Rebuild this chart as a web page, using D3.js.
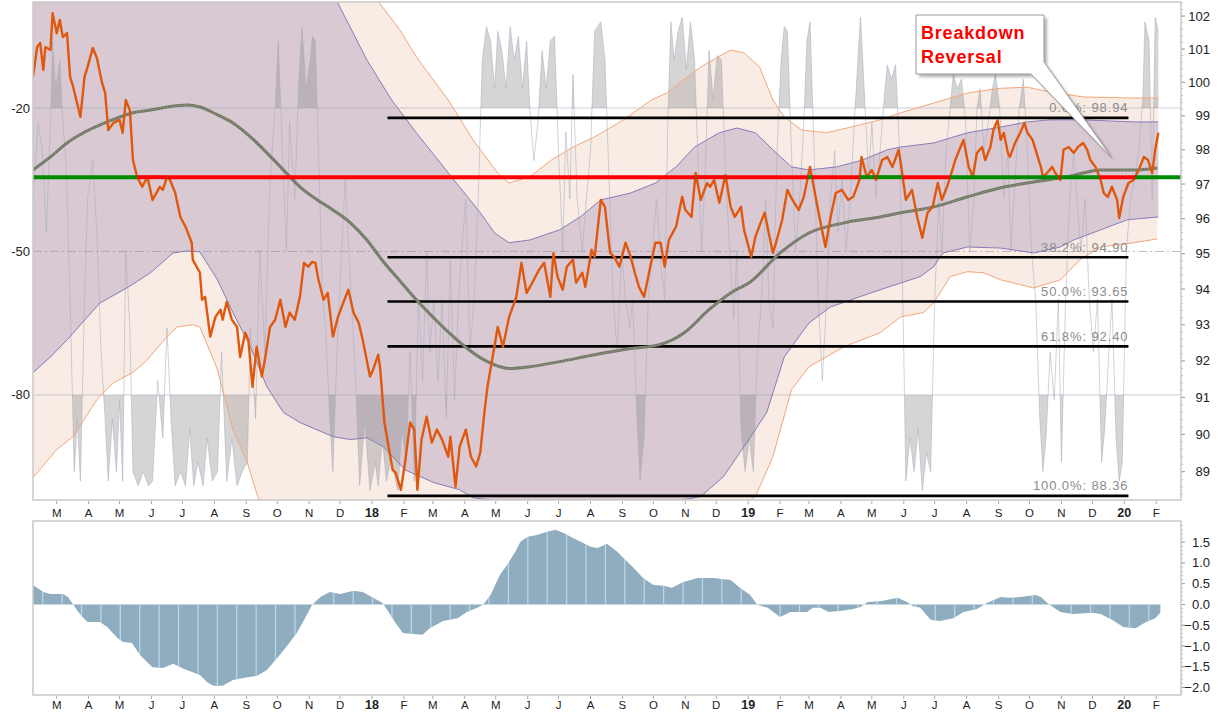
<!DOCTYPE html>
<html><head><meta charset="utf-8">
<script src="https://cdn.jsdelivr.net/npm/d3@7"></script>
<style>
body{margin:0;background:#fff;}
svg{display:block;font-family:"Liberation Sans",Arial,sans-serif;}
</style></head><body>
<svg id="c" width="1217" height="713"></svg>
<script>
// ---------- DATA ----------
const startDate = new Date(2017, 1, 6);   // day 0
const endDate = new Date(2020, 1, 25);

const priceDays = [0,4,7,10,12,17,19,23,26,29,33,36,39,46,50,53,58,62,67,70,73,78,84,87,90,94,97,101,106,111,116,123,126,130,133,138,143,148,150,154,155,162,164,167,172,177,182,184,188,193,198,201,206,209,213,217,222,225,230,235,240,245,249,254,259,263,267,271,274,277,282,286,291,296,301,306,311,316,320,327,330,335,337,341,349,352,357,361,366,370,373,377,382,387,392,397,403,405,410,414,420,425,430,434,438,441,446,451,456,462,467,469,474,479,486,491,496,502,505,509,514,518,524,527,533,536,542,545,551,555,560,564,569,575,580,584,588,593,599,604,609,613,617,624,630,633,639,643,648,654,657,661,666,672,677,681,687,690,697,701,706,710,714,718,721,727,732,737,743,748,754,760,765,769,774,779,785,791,796,802,804,809,814,818,824,829,834,840,842,847,853,858,863,868,873,878,882,887,890,895,900,903,908,912,916,921,924,929,932,936,939,942,946,948,953,958,962,965,970,975,978,980,984,989,992,997,1000,1005,1010,1014,1019,1023,1026,1031,1036,1039,1043,1047,1052,1054,1058,1063,1068,1073,1078,1082,1086,1089,1092];
const priceValues = [100.16,101.06,101.18,100.37,101.06,100.97,102.09,101.48,101.88,101.36,101.48,100.16,99.86,98.97,100.16,100.46,101.03,100.73,99.98,99.68,98.58,98.79,98.88,98.50,99.47,99.17,97.70,97.21,96.92,97.21,96.54,96.92,96.83,97.21,97.12,96.74,96.05,95.77,95.62,95.31,94.83,94.46,93.70,93.78,92.67,93.22,93.42,93.14,93.64,93.14,92.94,92.11,92.78,92.58,91.29,92.39,91.57,92.03,92.94,93.14,93.70,92.94,93.34,93.14,93.78,94.74,94.63,94.77,94.74,94.26,93.70,93.89,92.67,93.22,93.61,93.98,93.34,93.06,92.58,91.57,91.76,92.17,91.76,90.32,89.05,88.97,88.52,89.24,90.32,90.13,88.52,89.86,90.48,89.78,90.13,89.86,89.40,89.94,88.60,89.67,90.13,89.40,89.14,89.51,90.59,91.29,92.11,92.94,92.39,93.22,93.61,93.78,94.74,93.89,94.26,94.54,94.74,93.78,95.02,94.35,93.98,94.63,94.83,94.18,94.46,94.06,95.11,94.91,96.54,96.34,95.02,94.91,94.63,95.31,94.91,94.46,94.06,93.78,94.63,95.31,95.31,94.63,95.39,95.77,96.63,96.25,96.05,97.32,96.54,97.03,96.92,97.12,96.46,97.26,96.34,96.05,96.34,95.68,94.91,95.48,95.88,96.17,95.59,95.02,95.31,95.97,96.83,96.54,96.25,96.63,97.50,96.54,95.77,95.19,96.05,96.74,96.83,96.54,96.63,97.12,97.79,97.21,97.41,97.12,97.70,97.79,97.50,98.00,97.62,96.54,96.83,96.05,95.45,96.17,96.34,97.03,96.54,96.92,97.21,97.70,98.08,98.29,97.50,97.21,97.91,98.08,97.70,98.08,98.58,98.88,98.29,98.50,97.91,97.79,98.20,98.50,98.79,98.50,98.29,97.79,97.50,97.21,97.32,97.50,97.32,97.12,98.00,98.08,97.91,98.08,98.20,98.00,97.70,97.50,97.12,96.74,96.63,96.92,96.54,96.02,96.63,97.03,97.12,97.41,97.79,97.70,97.32,98.00,98.50];

const maDays = [0,17,33,49,65,82,97,114,130,150,162,179,194,211,227,243,259,276,291,308,324,340,357,372,389,406,423,441,462,482,511,545,580,608,632,656,677,696,725,753,787,822,842,874,907,939,971,1004,1036,1068,1091];
const maValues = [97.41,97.79,98.20,98.50,98.73,98.94,99.09,99.17,99.26,99.32,99.26,99.03,98.79,98.38,97.91,97.41,96.92,96.54,96.25,95.88,95.39,94.77,94.20,93.70,93.19,92.72,92.31,91.98,91.79,91.84,91.98,92.17,92.34,92.45,92.78,93.42,93.89,94.20,95.02,95.59,95.88,96.05,96.17,96.34,96.63,96.89,97.06,97.21,97.41,97.41,97.47];

const innerUpperDays = [0,65,150,220,259,295,324,348,372,406,434,448,462,482,511,531,551,580,604,624,642,666,683,701,718,736,753,780,805,829,842,874,907,939,965,987,1019,1068,1092];
const innerUpperValues = [102.8,103.3,103.6,103.8,103.4,102.45,100.67,99.47,98.50,97.21,96.17,95.59,95.31,95.39,95.68,96.05,96.54,96.74,97.03,97.50,98.08,98.50,98.64,98.50,98.00,97.50,97.41,97.50,97.70,98.00,98.08,98.20,98.50,98.67,98.82,98.88,98.88,98.82,98.82];
const innerLowerDays = [0,17,33,65,91,114,136,150,162,179,194,211,227,243,259,291,308,324,340,361,389,414,427,458,511,599,648,670,690,712,729,753,774,802,822,842,861,874,883,907,939,971,997,1010,1036,1062,1092];
const innerLowerValues = [91.68,92.11,92.58,93.61,94.03,94.46,95.02,95.08,95.05,94.26,93.34,92.39,91.29,90.59,90.32,89.94,89.86,89.91,89.67,89.05,88.71,88.52,88.31,88.2,88.1,88.1,88.34,88.87,89.67,90.59,92.11,93.05,93.50,93.78,93.98,94.17,94.35,94.63,95.02,95.19,95.16,95.02,95.19,95.39,95.68,95.97,96.05];
const outerUpperDays = [0,60,150,230,290,320,335,356,372,403,427,451,462,482,503,524,545,573,600,615,648,677,690,705,718,729,746,770,794,822,842,874,907,939,965,987,1019,1068,1092];
const outerUpperValues = [106.0,107.0,107.5,106.8,104.5,103.2,102.45,101.58,100.76,99.47,98.29,97.32,97.03,97.21,97.70,98.08,98.38,98.88,99.47,99.68,100.46,100.97,100.88,100.46,99.47,98.97,98.58,98.50,98.67,98.88,99.09,99.38,99.68,99.82,99.85,99.71,99.56,99.53,99.53];
const outerLowerDays = [0,23,39,62,78,97,111,130,140,155,162,179,194,208,218,240,300,356,450,550,647,701,718,736,753,787,822,842,864,874,890,907,922,939,971,997,1016,1036,1068,1091];
const outerLowerValues = [88.84,89.59,89.94,90.94,91.40,91.68,92.03,92.67,92.94,93.00,92.94,91.76,90.13,89.24,88.34,87.3,86.6,86.4,86.3,86.4,87.3,88.34,89.40,91.21,91.84,92.39,92.78,93.22,93.34,93.61,94.35,94.49,94.46,94.26,94.03,94.26,94.83,95.19,95.31,95.42];

const oscDays = [0,5,9,13,17,19,22,26,29,32,36,40,43,46,50,53,58,62,66,70,73,77,81,84,87,90,94,97,102,107,112,116,121,126,130,134,138,143,148,152,156,160,165,169,174,179,183,188,193,198,203,208,211,216,220,225,230,235,238,242,246,249,254,258,261,265,269,271,274,277,281,284,288,291,295,299,303,308,313,317,322,327,332,335,339,343,347,350,354,358,362,366,370,374,378,382,385,389,393,397,401,405,409,413,416,420,424,428,432,436,440,444,448,451,455,459,463,467,471,475,479,482,486,490,494,498,502,506,510,514,517,521,524,528,533,537,541,545,548,551,555,559,563,567,571,575,579,582,586,589,593,597,601,605,609,613,616,619,622,626,630,634,638,642,646,649,653,656,660,664,668,672,676,680,683,687,691,695,699,703,707,711,714,718,722,726,729,732,736,740,744,748,751,754,758,762,766,770,774,778,781,785,789,793,797,801,803,807,811,814,818,822,826,829,833,837,841,845,847,851,855,859,863,867,871,875,879,882,886,890,893,897,901,905,909,913,916,919,923,927,931,934,938,942,946,949,953,957,961,965,969,973,977,980,983,987,991,995,998,1002,1006,1010,1013,1017,1021,1025,1029,1033,1037,1040,1044,1047,1051,1054,1057,1061,1065,1069,1073,1077,1079,1083,1086,1089,1092];
const oscValues = [-39,-23,-29,-46,-23,-6,-16,-10,-23,-31,-60,-96,-85,-98,-60,-39,-31,-46,-71,-85,-98,-85,-96,-81,-98,-50,-66,-96,-99,-96,-99,-98,-77,-89,-66,-85,-99,-96,-99,-87,-99,-94,-99,-89,-98,-96,-71,-98,-89,-99,-96,-94,-66,-85,-50,-71,-35,-20,-6,-29,-50,-23,-39,-14,-3,-16,-10,-5,-6,-29,-60,-66,-85,-96,-71,-52,-35,-56,-77,-99,-85,-100,-94,-99,-89,-98,-94,-96,-100,-87,-94,-71,-98,-60,-77,-50,-71,-60,-77,-60,-85,-52,-81,-60,-50,-39,-71,-60,-39,-10,-3,-6,-16,-4,-8,-16,-3,-10,-5,-16,-6,-20,-31,-23,-8,-16,-6,-5,-29,-50,-25,-39,-13,-39,-50,-39,-29,-4,-3,-2,-10,-35,-60,-71,-50,-60,-66,-60,-85,-98,-89,-60,-50,-39,-52,-60,-23,-2,-10,-4,-1,-12,-2,-10,-35,-50,-29,-8,-18,-9,-10,-33,-50,-64,-50,-87,-96,-89,-96,-71,-60,-39,-60,-66,-29,-10,-3,-4,-29,-50,-39,-23,-6,-2,-29,-60,-77,-60,-39,-29,-46,-35,-50,-39,-23,-8,-1,-18,-35,-23,-39,-29,-18,-11,-14,-11,-29,-71,-98,-89,-96,-87,-100,-92,-96,-60,-39,-50,-29,-20,-13,-16,-14,-23,-50,-39,-20,-16,-29,-23,-16,-13,-20,-39,-29,-50,-35,-20,-14,-29,-50,-60,-85,-96,-89,-71,-81,-60,-94,-60,-39,-29,-39,-50,-39,-60,-71,-60,-94,-87,-71,-60,-89,-98,-94,-50,-39,-35,-29,-18,-2,-6,-39,-1,-4];

const histDays = [0,10,17,29,34,39,44,48,53,65,72,82,87,96,104,111,116,126,136,146,155,162,169,175,184,194,208,217,227,237,247,256,262,271,279,288,298,311,320,330,339,345,353,359,369,378,385,398,412,421,431,437,444,453,460,468,473,480,489,499,507,515,524,534,541,548,557,567,573,582,592,602,612,620,631,645,660,677,686,696,703,713,725,735,751,757,764,772,783,796,803,810,822,839,848,854,861,871,880,893,903,916,926,939,948,958,973,978,986,997,1009,1028,1036,1047,1058,1070,1080,1089,1094];
const histValues = [0.47,0.30,0.25,0.25,0.18,0.0,-0.18,-0.30,-0.42,-0.42,-0.54,-0.81,-0.90,-0.93,-1.22,-1.39,-1.51,-1.53,-1.43,-1.55,-1.63,-1.70,-1.87,-1.96,-1.96,-1.82,-1.75,-1.72,-1.58,-1.29,-0.98,-0.69,-0.42,0.0,0.18,0.30,0.25,0.33,0.30,0.16,0.04,-0.18,-0.49,-0.69,-0.71,-0.73,-0.57,-0.40,-0.33,-0.18,-0.08,0.0,0.23,0.71,0.95,1.27,1.51,1.63,1.67,1.75,1.80,1.72,1.60,1.48,1.39,1.36,1.46,1.27,1.12,0.90,0.64,0.47,0.45,0.40,0.54,0.64,0.64,0.59,0.40,0.23,-0.01,-0.08,-0.30,-0.18,-0.18,-0.08,-0.08,-0.18,-0.16,-0.11,-0.06,0.06,0.08,0.16,0.06,-0.04,-0.08,-0.37,-0.40,-0.33,-0.18,-0.11,0.04,0.18,0.16,0.18,0.23,0.18,0.0,-0.18,-0.23,-0.20,-0.23,-0.37,-0.54,-0.57,-0.42,-0.33,-0.20];

const fibPercents = [0.0, 38.2, 50.0, 61.8, 100.0];
const fibValues = [98.94, 94.90, 93.65, 92.40, 88.36];
const fibStartDay = 344, fibEndDay = 1063;
const levelValue = 97.2;

const priceTicks = [89,90,91,92,93,94,95,96,97,98,99,100,101,102];
const oscTicks = [-20,-50,-80];
const histTicks = [-2.0,-1.5,-1.0,-0.5,0.0,0.5,1.0,1.5];
const monthLetters = ["J","F","M","A","M","J","J","A","S","O","N","D"];
const calloutLines = ["Breakdown","Reversal"];

// ---------- LAYOUT ----------
const L = 33, R = 1181, mTop = 2, mBot = 500, sTop = 521, sBot = 695;
const svg = d3.select("#c");
const toDate = d => new Date(+startDate + d * 864e5);
const x = d3.scaleTime().domain([startDate, endDate]).range([L, R]);
const yP = d3.scaleLog().domain([88.25, 102.43]).range([mBot, mTop]);
const yO = d3.scaleLinear().domain([-100, 0]).range([490.6, 12.3]);
const yH = d3.scaleLinear().domain([-2.18, 2.01]).range([sBot, sTop]);

const defs = svg.append("defs");
defs.append("clipPath").attr("id","cm").append("rect").attr("x",L).attr("y",mTop).attr("width",R-L).attr("height",mBot-mTop);
defs.append("clipPath").attr("id","cs").append("rect").attr("x",L).attr("y",sTop).attr("width",R-L).attr("height",sBot-sTop);
defs.append("clipPath").attr("id","cAbove").append("rect").attr("x",L).attr("y",mTop).attr("width",R-L).attr("height",yO(-20)-mTop);
defs.append("clipPath").attr("id","cBelow").append("rect").attr("x",L).attr("y",yO(-80)).attr("width",R-L).attr("height",mBot-yO(-80));
const blur = defs.append("filter").attr("id","sh").attr("x","-20%").attr("y","-20%").attr("width","140%").attr("height","140%");
blur.append("feGaussianBlur").attr("stdDeviation",1.5);

const main = svg.append("g").attr("clip-path","url(#cm)");

function bandPath(uD,uV,lD,lV){
  const up = uD.map((d,i)=>[x(toDate(d)), yP(uV[i])]);
  const lo = lD.map((d,i)=>[x(toDate(d)), yP(lV[i])]).reverse();
  return d3.line()(up.concat(lo)) + "Z";
}
const lineP = d3.line().x(d=>x(d.t)).y(d=>yP(d.v));
const series = (D,V) => D.map((d,i)=>({t:toDate(d), v:V[i]}));

// bands
main.append("path").attr("d", bandPath(outerUpperDays,outerUpperValues,outerLowerDays,outerLowerValues)).attr("fill","#f8ece4");
main.append("path").attr("d", bandPath(innerUpperDays,innerUpperValues,innerLowerDays,innerLowerValues)).attr("fill","#d9c9d3");

// oscillator
const osc = series(oscDays, oscValues);
main.append("path").datum(osc).attr("clip-path","url(#cAbove)")
  .attr("d", d3.area().x(d=>x(d.t)).y0(yO(-20)).y1(d=>yO(d.v)))
  .attr("fill","rgba(128,128,132,0.33)");
main.append("path").datum(osc).attr("clip-path","url(#cBelow)")
  .attr("d", d3.area().x(d=>x(d.t)).y0(yO(-80)).y1(d=>yO(d.v)))
  .attr("fill","rgba(128,128,132,0.33)");
main.append("path").datum(osc).attr("d", d3.line().x(d=>x(d.t)).y(d=>yO(d.v)))
  .attr("fill","none").attr("stroke","rgba(165,175,192,0.55)").attr("stroke-width",1);

// osc grid lines
oscTicks.forEach(v=>{
  main.append("line").attr("x1",L).attr("x2",R).attr("y1",yO(v)).attr("y2",yO(v))
    .attr("stroke", v===-50 ? "rgba(140,140,150,0.55)" : "rgba(150,165,180,0.5)")
    .attr("stroke-width",1).attr("stroke-dasharray", v===-50 ? "9,3,2,3" : null);
});

// band outlines
[[outerUpperDays,outerUpperValues,"#f3a77a"],[outerLowerDays,outerLowerValues,"#f3a77a"],
 [innerUpperDays,innerUpperValues,"#857cba"],[innerLowerDays,innerLowerValues,"#857cba"]].forEach(([D,V,c])=>{
  main.append("path").datum(series(D,V)).attr("d",lineP).attr("fill","none").attr("stroke",c).attr("stroke-width",1);
});

// fib lines
fibValues.forEach((v,i)=>{
  const yy = yP(v);
  main.append("line").attr("x1",x(toDate(fibStartDay))).attr("x2",x(toDate(fibEndDay)))
    .attr("y1",yy).attr("y2",yy).attr("stroke","#000").attr("stroke-width",2.6);
  main.append("text").attr("x",x(toDate(fibEndDay))).attr("y",yy-5.5).attr("text-anchor","end")
    .attr("font-size",13).attr("letter-spacing","0.9px").attr("fill","#8c8c8c")
    .text(d3.format(".1f")(fibPercents[i]) + "%: " + d3.format(".2f")(v));
});

// MA
const ma = series(maDays, maValues);
main.append("path").datum(ma).attr("d", d3.line().x(d=>x(d.t)).y(d=>yP(d.v)).curve(d3.curveMonotoneX)).attr("fill","none")
  .attr("stroke","#6f7b67").attr("stroke-width",3);
main.append("path").datum(ma).attr("d", d3.line().x(d=>x(d.t)).y(d=>yP(d.v)).curve(d3.curveMonotoneX)).attr("fill","none")
  .attr("stroke","#a89488").attr("stroke-width",1).attr("stroke-dasharray","1.5,2");

// price
const price = series(priceDays, priceValues);
main.append("path").datum(price).attr("d", d3.line().x(d=>x(d.t)).y(d=>yP(d.v)))
  .attr("fill","none").attr("stroke","#e0570e").attr("stroke-width",2.4).attr("stroke-linejoin","round");

// level line red/green
const segs = [];
let segStart = +startDate, state = price[0].v >= levelValue;
for (let i=1;i<price.length;i++){
  const a = price[i-1], b = price[i];
  const sb = b.v >= levelValue;
  if (sb !== state){
    const f = (levelValue - a.v)/(b.v - a.v);
    const tc = +a.t + f*(b.t - a.t);
    segs.push({t0:segStart, t1:tc, up:state});
    segStart = tc; state = sb;
  }
}
segs.push({t0:segStart, t1:+endDate, up:state});
segs.forEach(s=>{
  main.append("line").attr("x1",x(new Date(s.t0))).attr("x2",x(new Date(s.t1)))
    .attr("y1",yP(levelValue)).attr("y2",yP(levelValue))
    .attr("stroke", s.up ? "#008a00" : "#ff0000").attr("stroke-width",4);
});

// callout
const cw = svg.append("g");
const cpath = "M916,15 L1044,15 L1044,62 L1112,158 L1031,74 L916,74 Z";
cw.append("path").attr("d",cpath).attr("transform","translate(3,3)").attr("fill","rgba(0,0,0,0.3)").attr("filter","url(#sh)");
cw.append("path").attr("d",cpath).attr("fill","#fff").attr("stroke","#9a9a9a").attr("stroke-width",1);
calloutLines.forEach((t,i)=>{
  cw.append("text").attr("x",921).attr("y",38.5 + i*24).attr("font-size",18).attr("font-weight","bold")
    .attr("letter-spacing","0.8px").attr("fill","#ff0000").text(t);
});

// ---------- SUB PANEL ----------
const sub = svg.append("g").attr("clip-path","url(#cs)");
const hist = series(histDays, histValues);
const harea = d3.area().x(d=>x(d.t)).y0(yH(0)).y1(d=>yH(d.v));
defs.append("clipPath").attr("id","ch").append("path").attr("d", harea(hist));
sub.append("path").attr("d", harea(hist)).attr("fill","#90adbf");
const hl = sub.append("g").attr("clip-path","url(#ch)");
for (let d = 9.4; d < 1095; d += 18.83){
  hl.append("line").attr("x1",x(toDate(d))).attr("x2",x(toDate(d))).attr("y1",sTop).attr("y2",sBot)
    .attr("stroke","#b9d9ef").attr("stroke-width",1.2);
}

// ---------- AXES & FRAMES ----------
const months = d3.timeMonth.range(d3.timeMonth.ceil(startDate), endDate);
function xAxis(yb, off){
  const g = svg.append("g");
  months.forEach(m=>{
    const xx = x(m);
    g.append("line").attr("x1",xx).attr("x2",xx).attr("y1",yb+1).attr("y2",yb+4).attr("stroke","#aaa");
    const isYear = m.getMonth()===0;
    g.append("text").attr("x",xx).attr("y",yb+off).attr("text-anchor","middle")
      .attr("font-size", isYear?12.5:11.5).attr("font-weight", isYear?"bold":"normal").attr("fill","#222")
      .text(isYear ? String(m.getFullYear()).slice(2) : monthLetters[m.getMonth()]);
  });
}
xAxis(mBot, 16.5); xAxis(sBot, 14);

// right price axis
const ra = svg.append("g");
d3.range(88.4, 102.5, 0.2).forEach(v=>{
  if (yP(v) < mTop || yP(v) > mBot) return;
  ra.append("line").attr("x1",R).attr("x2",R+2).attr("y1",yP(v)).attr("y2",yP(v)).attr("stroke","#bbb");
});
priceTicks.forEach(v=>{
  ra.append("line").attr("x1",R).attr("x2",R+4).attr("y1",yP(v)).attr("y2",yP(v)).attr("stroke","#999");
  ra.append("text").attr("x",1210).attr("y",yP(v)).attr("dy","0.35em").attr("text-anchor","end")
    .attr("font-size",13).attr("fill","#222").text(v);
});
// left osc axis
oscTicks.forEach(v=>{
  svg.append("text").attr("x",30).attr("y",yO(v)).attr("dy","0.35em").attr("text-anchor","end")
    .attr("font-size",13).attr("fill","#222").text(v);
});
// hist axis
d3.range(-2.1, 2.0, 0.1).forEach(v=>{
  ra.append("line").attr("x1",R).attr("x2",R+2).attr("y1",yH(v)).attr("y2",yH(v)).attr("stroke","#bbb");
});
histTicks.forEach(v=>{
  ra.append("line").attr("x1",R).attr("x2",R+4).attr("y1",yH(v)).attr("y2",yH(v)).attr("stroke","#999");
  ra.append("text").attr("x",1210).attr("y",yH(v)).attr("dy","0.35em").attr("text-anchor","end")
    .attr("font-size",13).attr("fill","#222").text(d3.format(".1f")(v));
});

// frames
svg.append("rect").attr("x",L).attr("y",mTop).attr("width",R-L).attr("height",mBot-mTop)
  .attr("fill","none").attr("stroke","#c9c9c9").attr("stroke-width",1.5);
svg.append("rect").attr("x",L).attr("y",sTop).attr("width",R-L).attr("height",sBot-sTop)
  .attr("fill","none").attr("stroke","#c9c9c9").attr("stroke-width",1.5);
</script>
</body></html>
